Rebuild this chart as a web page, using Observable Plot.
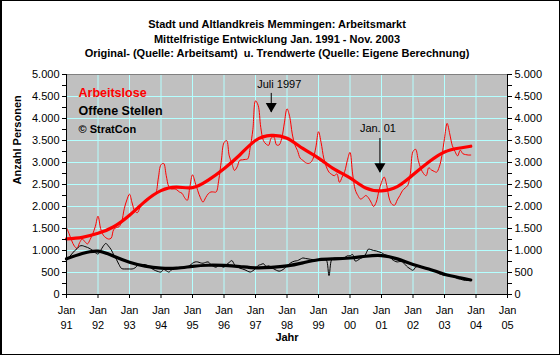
<!DOCTYPE html>
<html>
<head>
<meta charset="utf-8">
<script src="https://cdn.jsdelivr.net/npm/d3@7"></script>
<script src="https://cdn.jsdelivr.net/npm/@observablehq/plot@0.6"></script>
<style>
  html, body { margin: 0; padding: 0; background: #fff; }
  #wrap { position: relative; width: 560px; height: 355px; overflow: hidden; font-family: "Liberation Sans", Arial, sans-serif; }
  #title { position: absolute; left: 0; top: 17px; width: 554px; text-align: center; font-weight: bold; font-size: 11px; line-height: 14.5px; color: #000; }
  #border { position: absolute; left: 0; top: 0; width: 560px; height: 355px; box-sizing: border-box; border: 1px solid #000; border-left-width: 2px; pointer-events: none; }
  #chart { position: absolute; left: 0; top: 0; }
</style>
</head>
<body>
<div id="wrap">
  <div id="chart"></div>
  <div id="title">
    <div>Stadt und Altlandkreis Memmingen: Arbeitsmarkt</div>
    <div>Mittelfristige Entwicklung Jan. 1991 - Nov. 2003</div>
    <div>Original- (Quelle: Arbeitsamt)&nbsp; u. Trendwerte (Quelle: Eigene Berechnung)</div>
  </div>
  <div id="border"></div>
</div>
<script>
// Monthly values, Jan 1991 - Nov 2003
const startYear = 1991;
const arbeitslose = [
  1520,1380,1220,1100,1050,1180,1260,1200,1150,1250,1380,1550,
  1780,1500,1350,1290,1260,1280,1480,1520,1540,1650,1950,2150,
  2280,2080,1900,1860,1980,2090,2150,2180,2200,2250,2300,2650,
  2950,2980,2700,2450,2400,2400,2380,2330,2300,2200,2140,2450,
  2720,2550,2360,2200,2100,2200,2290,2330,2330,2330,2600,3050,
  3450,3500,3150,2980,2820,2900,3050,3060,3070,3080,3350,3750,
  4400,4300,3800,3500,3420,3390,3560,3580,3400,3400,3550,3900,
  4220,4050,3650,3400,3270,3100,3050,3000,2980,3000,3100,3350,
  3700,3450,3100,2900,2780,2730,2700,2740,2550,2670,2800,3050,
  3230,2740,2380,2250,2170,2200,2250,2200,2100,2000,2100,2350,
  2550,2670,2480,2170,2050,2030,2150,2250,2360,2420,2480,2750,
  3250,3300,3050,2860,2750,2700,2880,2830,2800,2780,2900,3150,
  3550,3890,3650,3380,3250,3150,3280,3200,3180,3170,3170
];
const offeneStellen = [
  770,850,920,990,1040,1100,1110,1090,1070,1040,1000,950,
  920,1000,1100,1160,1100,1020,900,800,680,590,580,580,
  580,580,600,660,670,680,680,650,610,570,540,520,
  510,570,540,510,560,600,610,620,620,610,620,660,
  710,740,740,720,710,730,740,680,640,620,660,640,
  620,680,730,770,680,630,600,580,560,530,510,540,
  590,660,680,700,640,650,620,580,550,530,550,590,
  650,700,740,760,770,800,830,820,810,800,790,790,
  790,790,790,780,430,790,830,830,830,830,840,880,
  880,910,760,780,820,850,920,1030,1020,1000,990,970,
  950,910,890,870,800,760,740,750,740,680,620,580,
  550,620,640,640,620,580,570,560,550,510,470,450,
  430,430,420,410,390,360,350,330,320,320,320
];
// Trend values (month index from Jan 1991)
const trendMonths = [0,6,12,18,24,30,36,42,48,54,60,66,72,78,84,90,96,102,108,114,120,126,132,138,144,150,154];
const trendArbeitslose = [1265,1300,1390,1540,1800,2120,2360,2440,2430,2600,2860,3170,3500,3615,3550,3320,3100,2850,2650,2420,2355,2450,2720,3010,3240,3330,3370];
const trendOffeneStellen = [810,930,985,870,735,645,600,600,640,665,660,635,605,615,650,720,790,810,830,870,885,810,680,580,460,380,330];

// Axis ticks
const yearTicks = d3.range(1991, 2006);
const yMajor = d3.range(0, 5001, 500);
const yMinor = d3.range(250, 5000, 500);

// Annotations
const annoX = [1997.5, 2000.95];
const annoText = ["Juli 1997", "Jan. 01"];
const annoTextY = [4770, 3770];
const annoTop = [4570, 3545];
const annoTip = [4136, 2770];
const annoDx = [8, -2];

// Legend
const legendText = ["Arbeitslose", "Offene Stellen", "© StratCon"];
const legendColor = ["#ff0000", "#000000", "#000000"];

const de = d3.formatLocale({decimal: ",", thousands: ".", grouping: [3], currency: ["", " €"]}).format(",d");
const mx = (d, i) => startYear + i / 12;
const tx = (i) => startYear + trendMonths[i] / 12;

const downTriangle = {
  draw(ctx, size) {
    const y = Math.sqrt(size / (3 * Math.sqrt(3)));
    ctx.moveTo(0, 2 * y);
    ctx.lineTo(-Math.sqrt(3) * y, -y);
    ctx.lineTo(Math.sqrt(3) * y, -y);
    ctx.closePath();
  }
};

const font = "'Liberation Sans', Arial, sans-serif";
const anno = annoText.map((t, i) => ({x: annoX[i], t, ty: annoTextY[i], top: annoTop[i], tip: annoTip[i]}));

const legendMark = (i, dy, size) => Plot.text([legendText[i]], {
  frameAnchor: "top-left", text: d => d, dx: 12, dy, textAnchor: "start", lineAnchor: "middle",
  fontWeight: "bold", fontSize: size, fill: legendColor[i]
});

const chart = Plot.plot({
  width: 560,
  height: 355,
  marginTop: 74,
  marginBottom: 61,
  marginLeft: 66,
  marginRight: 53,
  style: {fontFamily: font, fontSize: "11px", background: "transparent", color: "#000"},
  x: {domain: [1991, 2005]},
  y: {domain: [0, 5000]},
  marks: [
    Plot.frame({fill: "#c0c0c0", stroke: null}),
    Plot.gridX(yearTicks, {stroke: "#b4ffff", strokeOpacity: 1, strokeWidth: 1}),
    Plot.gridY(yMajor, {stroke: "#b4ffff", strokeOpacity: 1, strokeWidth: 1}),
    Plot.frame({stroke: "#808080"}),
    Plot.line(arbeitslose, {x: mx, y: d => d, stroke: "#ff0000", strokeWidth: 1, curve: "catmull-rom"}),
    Plot.line(offeneStellen, {x: mx, y: d => d, stroke: "#000000", strokeWidth: 1, curve: "catmull-rom"}),
    Plot.line(trendArbeitslose, {x: (d, i) => tx(i), y: d => d, stroke: "#ff0000", strokeWidth: 3.2, curve: "natural"}),
    Plot.line(trendOffeneStellen, {x: (d, i) => tx(i), y: d => d, stroke: "#000000", strokeWidth: 3.2, curve: "natural"}),
    // annotations
    Plot.ruleX(anno, {x: "x", y1: "top", y2: "tip", stroke: "#000", strokeWidth: 1}),
    Plot.dot(anno, {x: "x", y: "tip", symbol: downTriangle, r: 4.1, fill: "#000", stroke: null, dy: -6.3}),
    Plot.text([anno[0]], {x: "x", y: "ty", text: "t", dx: annoDx[0], fontSize: 11, fill: "#000"}),
    Plot.text([anno[1]], {x: "x", y: "ty", text: "t", dx: annoDx[1], fontSize: 11, fill: "#000"}),
    // legend inside plot
    legendMark(0, 18, 12.5),
    legendMark(1, 36, 12.5),
    legendMark(2, 55, 11),
    // axes
    Plot.ruleY([0], {stroke: "#000"}),
    Plot.ruleX([1991, 2005], {stroke: "#000"}),
    Plot.axisY(yMajor, {anchor: "left", tickSize: 4, tickPadding: 3, tickFormat: de, label: null, stroke: "#000", fill: "#000"}),
    Plot.axisY(yMinor, {anchor: "left", tickSize: 4, tickFormat: null, text: null, label: null, stroke: "#000"}),
    Plot.axisY(yMajor, {anchor: "right", tickSize: 4, tickPadding: 3, tickFormat: de, label: null, stroke: "#000", fill: "#000"}),
    Plot.axisY(yMinor, {anchor: "right", tickSize: 4, tickFormat: null, text: null, label: null, stroke: "#000"}),
    Plot.axisX(yearTicks, {anchor: "bottom", tickSize: 4, tickPadding: 5, lineHeight: 1.38, tickFormat: d => "Jan\n" + String(d).slice(2), label: null, stroke: "#000", fill: "#000"}),
    Plot.text(["Jahr"], {frameAnchor: "bottom", dy: 46, fontWeight: "bold", fontSize: 11, fill: "#000"}),
    Plot.text(["Anzahl Personen"], {frameAnchor: "left", dx: -49, rotate: -90, fontWeight: "bold", fontSize: 11, fill: "#000"})
  ]
});
document.getElementById("chart").appendChild(chart);
</script>
</body>
</html>
